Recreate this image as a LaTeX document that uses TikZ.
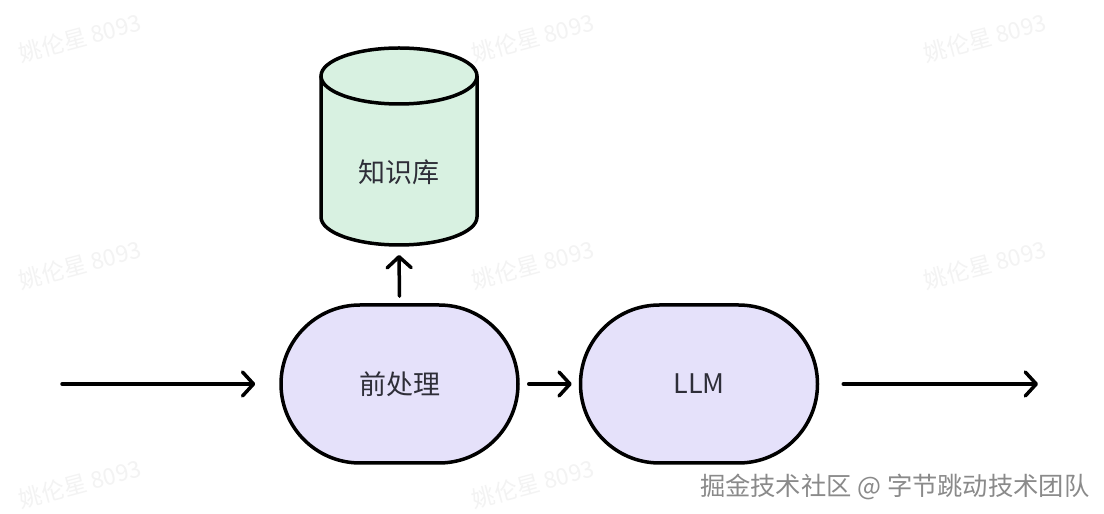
\documentclass[tikz,border=0pt]{standalone}
\usepackage{fontspec}
\setmainfont{Noto Sans CJK SC}
\newfontfamily\cjk{Noto Sans CJK SC}
\usetikzlibrary{shapes.misc,arrows.meta}
\definecolor{kbfill}{HTML}{D8F1E1}
\definecolor{procfill}{HTML}{E5E1FA}
\definecolor{txt}{HTML}{2E2E38}
\definecolor{wm}{HTML}{F3F3F3}
\definecolor{footer}{HTML}{8A8A8A}
\tikzset{
  proc/.style={rounded rectangle, draw=black, line width=3.5pt, fill=procfill,
    minimum width=237pt, minimum height=158pt, inner sep=0pt,
    font=\cjk\fontsize{27}{30}\selectfont, text=txt},
  flow/.style={line width=3.5pt, line cap=round,
    -{Straight Barb[length=11pt,width=24pt,round]}},
  wmark/.style={text=wm, rotate=15, font=\cjk\fontsize{23}{25}\selectfont},
  lbl/.style={font=\cjk\fontsize{27}{30}\selectfont, text=txt}
}
\begin{document}
\begin{tikzpicture}[x=1pt,y=1pt]
\useasboundingbox[fill=white] (0,0) rectangle (1104,514);
% watermarks
\foreach \wx in {80,533}{
  \foreach \wy in {476,249,30}{
    \node[wmark] at (\wx,\wy) {姚伦星 8093};
  }
}
\node[wmark] at (985,476) {姚伦星 8093};
\node[wmark] at (985,249) {姚伦星 8093};
% cylinder (knowledge base)
\fill[kbfill] (321,438) -- (321,297) arc[start angle=180,end angle=360,x radius=78,y radius=28]
  -- (477,438) arc[start angle=0,end angle=180,x radius=78,y radius=28] -- cycle;
\draw[line width=3.5pt] (321,438) -- (321,297) arc[start angle=180,end angle=360,x radius=78,y radius=28]
  -- (477,438);
\draw[line width=3.5pt] (399,438) ellipse[x radius=78,y radius=28];
\node[lbl] (kb) at (399,342) {知识库};
\coordinate (kbin) at (399,259);
% process nodes
\node[proc] (pre) at (399.5,130) {前处理};
\node[proc] (llm) at (699,130) {LLM};
\coordinate (in) at (62,130);
\coordinate (out) at (1038,130);
% connectors
\draw[flow] (in) -- ([xshift=-24pt]pre.west);
\draw[flow] ([xshift=9pt]pre.east) -- ([xshift=-7pt]llm.west);
\draw[flow] ([xshift=24pt]llm.east) -- (out);
\draw[flow] ([yshift=7pt]pre.north) -- (kbin);
% footer
\node[font=\cjk\fontsize{25.3}{27}\selectfont, text=footer, anchor=east] (ft) at (1093,27) {掘金技术社区 @ 字节跳动技术团队};
\end{tikzpicture}
\end{document}
